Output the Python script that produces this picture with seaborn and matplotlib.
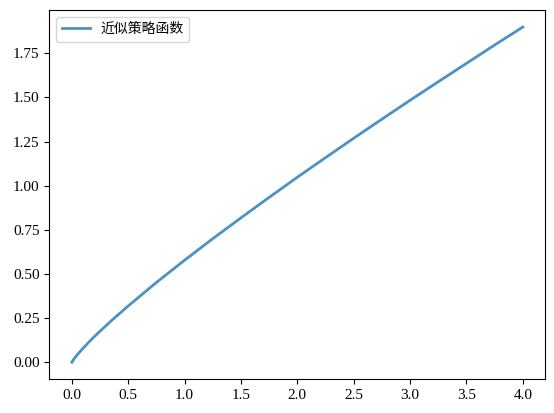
import numpy as np
import pandas as pd
import matplotlib
matplotlib.use("Agg")
import matplotlib.pyplot as plt
import seaborn as sns

# values
x_vals = [0.0, 0.02, 0.05, 0.1, 0.175, 0.25, 0.35, 0.5, 0.75, 1.0, 1.25, 1.5, 1.75,
          2.0, 2.25, 2.5, 2.75, 3.0, 3.25, 3.5, 3.75, 4.0]
y_vals = [0.0, 0.020, 0.044, 0.080, 0.130, 0.176, 0.235, 0.319, 0.452, 0.578, 0.700,
          0.818, 0.934, 1.048, 1.159, 1.269, 1.377, 1.484, 1.589, 1.693, 1.797, 1.899]
label = "近似策略函数"

plt.rcParams['font.family'] = ['Liberation Serif', 'Noto Sans CJK SC', 'DejaVu Sans']
plt.rcParams['axes.unicode_minus'] = False

df = pd.DataFrame({"x": x_vals, "y": y_vals})

fig = plt.figure(figsize=(5.54, 4.13), dpi=100)
ax = fig.add_axes([49.3 / 554, 34 / 413, 496 / 554, 368.7 / 413])
sns.lineplot(data=df, x="x", y="y", ax=ax, label=label, color="tab:blue",
             alpha=0.8, linewidth=2)
ax.set_xlabel("")
ax.set_ylabel("")
ax.set_xticks([0.0, 0.5, 1.0, 1.5, 2.0, 2.5, 3.0, 3.5, 4.0])
ax.set_yticks([0.0, 0.25, 0.5, 0.75, 1.0, 1.25, 1.5, 1.75])
ax.set_xticklabels(["0.0", "0.5", "1.0", "1.5", "2.0", "2.5", "3.0", "3.5", "4.0"])
ax.set_yticklabels(["0.00", "0.25", "0.50", "0.75", "1.00", "1.25", "1.50", "1.75"])
ax.tick_params(labelsize=11)
ax.legend(loc="upper left", fontsize=10)
fig.savefig("out.png", dpi=100)
